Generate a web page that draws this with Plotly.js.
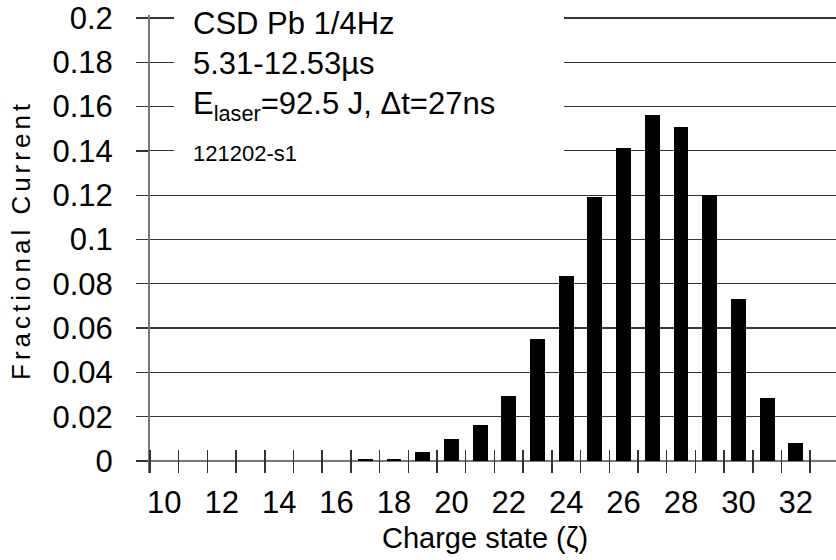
<!DOCTYPE html>
<html>
<head>
<meta charset="utf-8">
<script src="https://cdn.plot.ly/plotly-3.0.1.min.js"></script>
<style>
html,body{margin:0;padding:0;background:#fff;}
#chart{width:836px;height:560px;}
g.annotation[data-index="5"] text{letter-spacing:4px;}
</style>
</head>
<body>
<div id="chart"></div>
<script>
// Charge states (categories)
var chargeStates = [10,11,12,13,14,15,16,17,18,19,20,21,22,23,24,25,26,27,28,29,30,31,32];
// Fractional current per charge state
var fractionalCurrent = [0,0,0,0,0,0,0,0.001,0.001,0.0042,0.0098,0.0162,0.0293,0.055,0.0833,0.1194,0.1411,0.1563,0.1509,0.12,0.0733,0.0284,0.0083];
// X tick labels (even charge states)
var xLabelVals = [10,12,14,16,18,20,22,24,26,28,30,32];
var xLabelText = ['10','12','14','16','18','20','22','24','26','28','30','32'];
// Bin boundaries (tick marks between bars)
var xBoundaries = [9.5,10.5,11.5,12.5,13.5,14.5,15.5,16.5,17.5,18.5,19.5,20.5,21.5,22.5,23.5,24.5,25.5,26.5,27.5,28.5,29.5,30.5,31.5,32.5];
// Y ticks
var yTickVals = [0,0.02,0.04,0.06,0.08,0.1,0.12,0.14,0.16,0.18,0.2];
var yTickText = ['0','0.02','0.04','0.06','0.08','0.1','0.12','0.14','0.16','0.18','0.2'];
// Texts
var infoLines = ['CSD Pb 1/4Hz','5.31-12.53µs','E<sub>laser</sub>=92.5 J, Δt=27ns','121202-s1'];
var xTitle = 'Charge state (ζ)';
var yTitle = 'Fractional Current';

var FONT = 'Liberation Sans, Arial, Helvetica, sans-serif';

var trace = {
  type: 'bar',
  x: chargeStates,
  y: fractionalCurrent,
  width: 0.52,
  marker: {color: '#000000', line: {width: 0}},
  hoverinfo: 'x+y'
};

// Plot area: left 150, right 836, top 15, bottom 473
var L = 150, R = 0, T = 15, B = 87;
var W = 836, H = 560;
var pw = W - L - R, ph = H - T - B;
function px2x(p){ return (p - L) / pw; }
function py2y(p){ return (H - B - p) / ph; }

var annLines = [
  {t: infoLines[0], y: 24, s: 31},
  {t: infoLines[1], y: 63, s: 31},
  {t: infoLines[2], y: 106, s: 31},
  {t: infoLines[3], y: 153, s: 22}
];
var annotations = annLines.map(function(a){
  return {
    text: a.t, xref: 'paper', yref: 'paper',
    x: px2x(191), y: py2y(a.y), xanchor: 'left', yanchor: 'middle',
    showarrow: false, font: {family: FONT, size: a.s, color: '#000'}
  };
});
annotations.push({
  text: xTitle, xref: 'paper', yref: 'paper',
  x: px2x(485), y: py2y(538), xanchor: 'center', yanchor: 'middle',
  showarrow: false, font: {family: FONT, size: 29, color: '#000'}
});
annotations.push({
  text: yTitle, xref: 'paper', yref: 'paper', textangle: -90,
  x: px2x(21), y: py2y(240), xanchor: 'center', yanchor: 'middle',
  showarrow: false, font: {family: FONT, size: 26, color: '#000'}
});

var layout = {
  width: W, height: H,
  margin: {l: L, r: R, t: T, b: B, pad: 0},
  paper_bgcolor: '#fff', plot_bgcolor: '#fff',
  showlegend: false,
  bargap: 0,
  font: {family: FONT, color: '#000'},
  xaxis: {
    range: [9.5, 33.4],
    tickmode: 'array', tickvals: xLabelVals, ticktext: xLabelText,
    ticks: '', showgrid: false, zeroline: false, showline: false,
    tickfont: {family: FONT, size: 31, color: '#000'},
    ticklabelstandoff: 8,
    minor: {tickmode: 'array', tickvals: xBoundaries, ticks: 'inside', ticklen: 23, tickwidth: 1.5, tickcolor: '#333', showgrid: false},
    automargin: false, fixedrange: true
  },
  yaxis: {
    range: [-0.00542, 0.20135],
    tickmode: 'array', tickvals: yTickVals, ticktext: yTickText,
    ticks: 'outside', ticklen: 12, tickwidth: 1.3, tickcolor: '#333',
    showgrid: true, gridcolor: '#333', gridwidth: 1.2,
    zeroline: true, zerolinecolor: '#777', zerolinewidth: 2,
    showline: true, linecolor: '#777', linewidth: 2,
    tickfont: {family: FONT, size: 31, color: '#000'},
    ticklabelstandoff: 17,
    automargin: false, fixedrange: true
  },
  shapes: [{
    type: 'rect', xref: 'paper', yref: 'paper', layer: 'above',
    x0: px2x(174), x1: px2x(564), y0: py2y(185), y1: 1.05,
    fillcolor: '#fff', line: {width: 0}
  }],
  annotations: annotations
};

Plotly.newPlot('chart', [trace], layout, {displayModeBar: false, staticPlot: true});
</script>
</body>
</html>
